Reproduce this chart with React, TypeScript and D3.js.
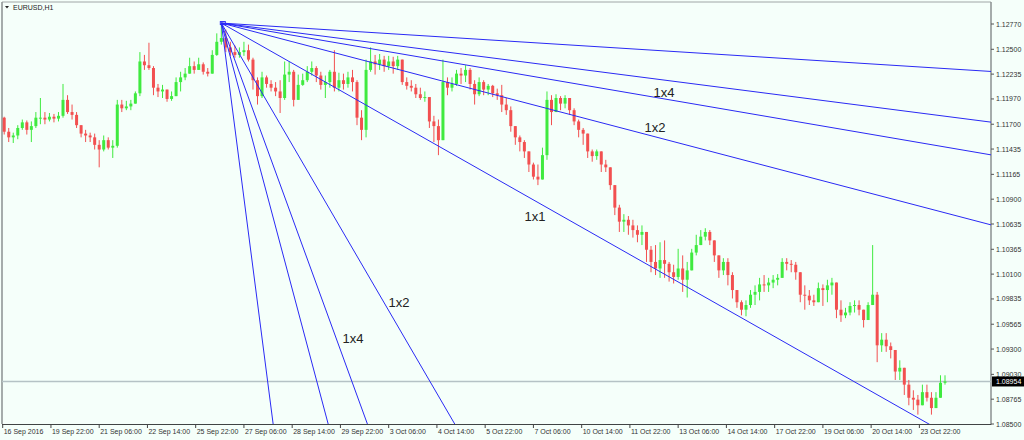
import React from 'react';
import * as d3 from 'd3';

const W = 1024;
const H = 440;

const symbolTitle = 'EURUSD,H1';
const hoursPerCandle = 3;
const firstOpen = 1.1177;

const closes = [
  1.1162, 1.1156, 1.1158, 1.1166, 1.1172, 1.1164, 1.1168, 1.1177, 1.1177, 1.1175,
  1.1178, 1.1176, 1.1179, 1.1196, 1.1183, 1.1180, 1.1169, 1.1160, 1.1158, 1.1156,
  1.1148, 1.1143, 1.1153, 1.1145, 1.1147, 1.1191, 1.1187, 1.1189, 1.1192, 1.1203,
  1.1237, 1.1233, 1.1230, 1.1209, 1.1205, 1.1207, 1.1197, 1.1200, 1.1215, 1.1220,
  1.1224, 1.1232, 1.1228, 1.1234, 1.1226, 1.1224, 1.1244, 1.1258, 1.1262, 1.1252,
  1.1247, 1.1244, 1.1247, 1.1249, 1.1239, 1.1217, 1.1200, 1.1220, 1.1213, 1.1209,
  1.1205, 1.1198, 1.1223, 1.1226, 1.1196, 1.1212, 1.1217, 1.1226, 1.1230, 1.1222,
  1.1212, 1.1215, 1.1226, 1.1209, 1.1217, 1.1213, 1.1220, 1.1215, 1.1177, 1.1164,
  1.1228, 1.1237, 1.1234, 1.1239, 1.1232, 1.1237, 1.1232, 1.1239, 1.1215, 1.1211,
  1.1209, 1.1202, 1.1198, 1.1199, 1.1173, 1.1168, 1.1153, 1.1215, 1.1209, 1.1213,
  1.1224, 1.1222, 1.1228, 1.1213, 1.1202, 1.1215, 1.1207, 1.1211, 1.1203, 1.1201,
  1.1191, 1.1185, 1.1168, 1.1156, 1.1151, 1.1141, 1.1127, 1.1114, 1.1111, 1.1137,
  1.1196, 1.1183, 1.1198, 1.1192, 1.1198, 1.1185, 1.1173, 1.1164, 1.1160, 1.1141,
  1.1136, 1.1141, 1.1127, 1.1124, 1.1105, 1.1081, 1.1066, 1.1068, 1.1062, 1.1057,
  1.1052, 1.1055, 1.1036, 1.1023, 1.1016, 1.1025, 1.1021, 1.1012, 1.1007, 1.1016,
  1.1004, 1.1014, 1.1033, 1.1041, 1.1050, 1.1055, 1.1046, 1.1030, 1.1014, 1.1023,
  1.1009, 1.0993, 1.0980, 1.0972, 1.0977, 1.0988, 1.0991, 1.0999, 1.0998, 1.1001,
  1.1004, 1.1006, 1.1023, 1.1021, 1.1020, 1.1012, 1.0988, 1.0987, 1.0982, 1.0980,
  1.0995, 1.0993, 1.0998, 1.1001, 1.0972, 1.0966, 1.0969, 1.0976, 1.0977, 1.0972,
  1.0961, 1.0977, 1.0988, 1.0934, 1.0940, 1.0933, 1.0929, 1.0906, 1.0910, 1.0892,
  1.0878, 1.0876, 1.0870, 1.0884, 1.0878, 1.0867, 1.0878, 1.0894, 1.08954,
];

const highs = [
  1.1178, 1.1166, 1.1161, 1.1169, 1.1175, 1.1174, 1.1173, 1.1183, 1.1198, 1.1183,
  1.1182, 1.1181, 1.1183, 1.1213, 1.1201, 1.1191, 1.1183, 1.1168, 1.1164, 1.1161,
  1.1160, 1.1153, 1.1158, 1.1156, 1.1153, 1.1196, 1.1196, 1.1195, 1.1196, 1.1205,
  1.1247, 1.1244, 1.1257, 1.1232, 1.1213, 1.1212, 1.1205, 1.1205, 1.1220, 1.1226,
  1.1230, 1.1241, 1.1237, 1.1241, 1.1236, 1.1230, 1.1249, 1.1267, 1.1278, 1.1271,
  1.1258, 1.1254, 1.1252, 1.1258, 1.1255, 1.1241, 1.1220, 1.1226, 1.1222, 1.1217,
  1.1215, 1.1217, 1.1237, 1.1237, 1.1228, 1.1223, 1.1224, 1.1232, 1.1237, 1.1232,
  1.1226, 1.1222, 1.1228, 1.1249, 1.1225, 1.1224, 1.1226, 1.1228, 1.1217, 1.1185,
  1.1239, 1.1252, 1.1244, 1.1245, 1.1243, 1.1243, 1.1242, 1.1243, 1.1237, 1.1220,
  1.1217, 1.1213, 1.1209, 1.1205, 1.1198, 1.1179, 1.1175, 1.1239, 1.1220, 1.1220,
  1.1228, 1.1230, 1.1233, 1.1230, 1.1217, 1.1220, 1.1217, 1.1213, 1.1212, 1.1208,
  1.1212, 1.1198, 1.1189, 1.1168, 1.1158, 1.1153, 1.1141, 1.1129, 1.1127, 1.1145,
  1.1205, 1.1201, 1.1202, 1.1200, 1.1201, 1.1198, 1.1187, 1.1175, 1.1166, 1.1156,
  1.1143, 1.1143, 1.1137, 1.1132, 1.1121, 1.1103, 1.1084, 1.1074, 1.1072, 1.1068,
  1.1062, 1.1062, 1.1055, 1.1040, 1.1041, 1.1044, 1.1046, 1.1023, 1.1020, 1.1037,
  1.1030, 1.1023, 1.1037, 1.1052, 1.1057, 1.1059, 1.1057, 1.1046, 1.1030, 1.1027,
  1.1027, 1.1012, 1.0991, 1.0982, 1.0982, 1.0993, 1.0998, 1.1006, 1.1009, 1.1006,
  1.1009, 1.1010, 1.1027, 1.1027, 1.1025, 1.1023, 1.1009, 1.0998, 1.0993, 1.0988,
  1.1001, 1.0999, 1.1004, 1.1006, 1.0991, 1.0982, 1.0974, 1.0980, 1.0982, 1.0982,
  1.0972, 1.0980, 1.1041, 1.0991, 1.0947, 1.0947, 1.0937, 1.0924, 1.0918, 1.0910,
  1.0897, 1.0886, 1.0881, 1.0892, 1.0892, 1.0884, 1.0884, 1.0902, 1.0902,
];

const lows = [
  1.1159, 1.1151, 1.1150, 1.1154, 1.1164, 1.1159, 1.1151, 1.1166, 1.1170, 1.1170,
  1.1173, 1.1172, 1.1173, 1.1177, 1.1181, 1.1175, 1.1166, 1.1156, 1.1151, 1.1151,
  1.1143, 1.1124, 1.1141, 1.1143, 1.1134, 1.1145, 1.1183, 1.1185, 1.1185, 1.1192,
  1.1200, 1.1228, 1.1228, 1.1201, 1.1199, 1.1198, 1.1194, 1.1195, 1.1200, 1.1205,
  1.1217, 1.1224, 1.1224, 1.1228, 1.1223, 1.1221, 1.1228, 1.1243, 1.1255, 1.1247,
  1.1243, 1.1241, 1.1241, 1.1243, 1.1237, 1.1207, 1.1191, 1.1198, 1.1209, 1.1205,
  1.1200, 1.1182, 1.1196, 1.1215, 1.1189, 1.1196, 1.1211, 1.1215, 1.1222, 1.1215,
  1.1207, 1.1198, 1.1209, 1.1205, 1.1205, 1.1207, 1.1209, 1.1205, 1.1169, 1.1153,
  1.1156, 1.1226, 1.1223, 1.1228, 1.1226, 1.1228, 1.1224, 1.1228, 1.1212, 1.1207,
  1.1205, 1.1198, 1.1196, 1.1194, 1.1166, 1.1151, 1.1137, 1.1153, 1.1201, 1.1205,
  1.1211, 1.1213, 1.1215, 1.1207, 1.1191, 1.1200, 1.1201, 1.1201, 1.1199, 1.1196,
  1.1183, 1.1180, 1.1162, 1.1148, 1.1141, 1.1134, 1.1119, 1.1111, 1.1105, 1.1111,
  1.1132, 1.1169, 1.1183, 1.1185, 1.1187, 1.1180, 1.1169, 1.1156, 1.1148, 1.1134,
  1.1130, 1.1132, 1.1119, 1.1119, 1.1100, 1.1073, 1.1055, 1.1055, 1.1052, 1.1049,
  1.1044, 1.1041, 1.1023, 1.1012, 1.1009, 1.1006, 1.1006, 1.1002, 1.1000, 1.1004,
  1.0991, 1.0985, 1.1016, 1.1030, 1.1041, 1.1046, 1.1041, 1.1023, 1.1006, 1.1009,
  1.0998, 1.0984, 1.0974, 1.0966, 1.0965, 1.0974, 1.0977, 1.0982, 1.0991, 1.0991,
  1.0995, 1.0998, 1.1009, 1.1014, 1.1012, 1.1004, 1.0980, 1.0972, 1.0977, 1.0976,
  1.0980, 1.0976, 1.0980, 1.0988, 1.0963, 1.0959, 1.0963, 1.0966, 1.0969, 1.0966,
  1.0953, 1.0963, 1.0977, 1.0916, 1.0927, 1.0927, 1.0920, 1.0897, 1.0897, 1.0881,
  1.0870, 1.0865, 1.0860, 1.0870, 1.0874, 1.0860, 1.0867, 1.0878, 1.0892,
];

const timeLabels = [
  '16 Sep 2016', '19 Sep 22:00', '21 Sep 06:00', '22 Sep 14:00', '25 Sep 22:00',
  '27 Sep 06:00', '28 Sep 14:00', '29 Sep 22:00', '3 Oct 06:00', '4 Oct 14:00',
  '5 Oct 22:00', '7 Oct 06:00', '10 Oct 14:00', '11 Oct 22:00', '13 Oct 06:00',
  '14 Oct 14:00', '17 Oct 22:00', '19 Oct 06:00', '20 Oct 14:00', '23 Oct 22:00',
];
const hoursBetweenTimeLabels = 32;

const priceTicks = [
  1.1277, 1.125, 1.12235, 1.1197, 1.117, 1.11435, 1.11165, 1.109, 1.10635,
  1.10365, 1.101, 1.09835, 1.09565, 1.093, 1.0903, 1.08765, 1.085,
];

const bidPrice = 1.08954;

// Gann fan: anchor at the swing high candle, slopes in pips per hour
const fanAnchorCandle = 48;
const fanAnchorPrice = 1.1278;
const fanSlopesPipsPerHour = [0.1012, 0.2072, 0.2756, 0.422, 0.912, 2.7645, 4.417, 6.039, 12.45];

// Text labels on the fan (hour index, price)
const fanLabelText = ['1x4', '1x2', '1x1', '1x2', '1x4'];
const fanLabelHour = [438.6, 432.6, 353, 262.8, 232.3];
const fanLabelPrice = [1.12044, 1.1167, 1.1072, 1.09792, 1.09418];

const FONT = '"Liberation Sans", Arial, sans-serif';

export default function App() {
  const left = 2;
  const right = 991;
  const top = 2;
  const bottom = 424;

  // hourly bar index -> x (about 1.51 px per hourly bar)
  const x = d3.scaleLinear().domain([0, 655.5]).range([2.7, right]);
  const y = d3.scaleLinear().domain([1.085, 1.1277]).range([bottom, 24]);

  const candles = closes.map((c, i) => {
    const o = i === 0 ? firstOpen : closes[i - 1];
    const h = Math.max(highs[i], o, c);
    const l = Math.min(lows[i], o, c);
    return { o, h, l, c, hour: i * hoursPerCandle + 1 };
  });

  const anchorHour = fanAnchorCandle * hoursPerCandle + 1;
  const ax = x(anchorHour);
  const ay = y(fanAnchorPrice);
  const farHours = 1200;
  const fanLines = fanSlopesPipsPerHour.map((s) => {
    const endPrice = fanAnchorPrice - (s / 10000) * farHours;
    return d3.line()([[ax, ay], [x(anchorHour + farHours), y(endPrice)]]) as string;
  });

  const bull = '#3fea3f';
  const bear = '#f25050';
  const bodyW = 3;

  return (
    <svg
      width={W}
      height={H}
      style={{ position: 'absolute', left: 0, top: 0, display: 'block', background: '#f5fffa' }}
    >
      <defs>
        <clipPath id="plotClip">
          <rect x={left} y={top} width={right - left} height={bottom - top} />
        </clipPath>
      </defs>
      <rect x={0} y={0} width={W} height={H} fill="#f5fffa" />

      {/* frame */}
      <line x1={left} y1={top} x2={right} y2={top} stroke="#a0a6a6" strokeWidth={1} />
      <line x1={left} y1={top} x2={left} y2={bottom} stroke="#8a9090" strokeWidth={1.5} />
      <line x1={right} y1={top} x2={right} y2={bottom + 1} stroke="#8a9090" strokeWidth={1.5} />
      <line x1={left} y1={bottom + 0.5} x2={right} y2={bottom + 0.5} stroke="#404444" strokeWidth={1} />

      {/* bid line */}
      <line x1={left} y1={y(bidPrice)} x2={right} y2={y(bidPrice)} stroke="#b5c2c5" strokeWidth={1.6} />

      {/* candles */}
      <g clipPath="url(#plotClip)">
        {candles.map((d, i) => {
          const cx = x(d.hour);
          const color = d.c >= d.o ? bull : bear;
          const yt = y(Math.max(d.o, d.c));
          const yb = y(Math.min(d.o, d.c));
          return (
            <g key={i}>
              <line x1={cx} x2={cx} y1={y(d.h)} y2={y(d.l)} stroke={color} strokeWidth={1} />
              <rect x={cx - bodyW / 2} y={yt} width={bodyW} height={Math.max(1, yb - yt)} fill={color} />
            </g>
          );
        })}
      </g>

      {/* gann fan */}
      <g clipPath="url(#plotClip)">
        {fanLines.map((p, i) => (
          <path key={i} d={p} stroke="#2a2af5" strokeWidth={1} fill="none" />
        ))}
        <rect x={ax - 1} y={ay - 1.5} width={5} height={3} fill="none" stroke="#2a2af5" strokeWidth={1} />
      </g>
      {fanLabelText.map((t, i) => (
        <text
          key={i}
          x={x(fanLabelHour[i])}
          y={y(fanLabelPrice[i]) + 4.5}
          textAnchor="middle"
          fontFamily={FONT}
          fontSize={13}
          fill="#222"
        >
          {t}
        </text>
      ))}

      {/* price axis */}
      {priceTicks.map((v, i) => (
        <g key={i}>
          <line x1={right} x2={right + 3} y1={y(v)} y2={y(v)} stroke="#555" strokeWidth={1} />
          <text x={right + 5} y={y(v) + 2.5} fontFamily={FONT} fontSize={7} fill="#333">
            {v.toFixed(5)}
          </text>
        </g>
      ))}
      <rect x={right + 1} y={y(bidPrice) - 5} width={W - right - 1} height={10} fill="#000" />
      <text x={right + 5} y={y(bidPrice) + 2.5} fontFamily={FONT} fontSize={7} fill="#fff">
        {bidPrice.toFixed(5)}
      </text>

      {/* time axis */}
      {timeLabels.map((t, i) => {
        const tx = x(i * hoursBetweenTimeLabels);
        return (
          <g key={i}>
            <line x1={tx} x2={tx} y1={bottom} y2={bottom + 4} stroke="#444" strokeWidth={1} />
            <text x={tx + 1} y={bottom + 10} fontFamily={FONT} fontSize={7} fill="#333">
              {t}
            </text>
          </g>
        );
      })}

      {/* title */}
      <path d="M5,6 L9,6 L7,8.5 Z" fill="#222" />
      <text x={13} y={10} fontFamily={FONT} fontSize={7} fill="#222">
        {symbolTitle}
      </text>
    </svg>
  );
}
